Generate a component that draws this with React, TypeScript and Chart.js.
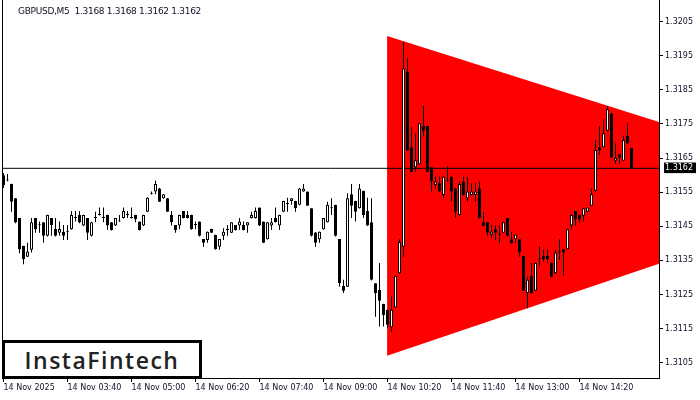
import React, { useEffect, useRef } from "react";
import { Chart, registerables } from "chart.js";

Chart.register(...registerables);

const title = "GBPUSD,M5  1.3168 1.3168 1.3162 1.3162";

const opens = [
  1.316, 1.31584, 1.31574, 1.31532, 1.31474, 1.31392, 1.31361, 1.31381, 1.31474, 1.31454,
  1.31462, 1.31422, 1.31474, 1.31442, 1.31431, 1.31434, 1.31434, 1.31441, 1.31474, 1.31483,
  1.31452, 1.31474, 1.31422, 1.31474, 1.31483, 1.31477, 1.31483, 1.31462, 1.31452, 1.31464,
  1.31474, 1.31483, 1.31474, 1.31483, 1.31464, 1.31452, 1.31493, 1.31544, 1.31552, 1.31561,
  1.31532, 1.31532, 1.31483, 1.31454, 1.31452, 1.31495, 1.31483, 1.31483, 1.31454, 1.31464,
  1.31413, 1.3141, 1.31442, 1.31425, 1.3139, 1.31422, 1.31439, 1.31431, 1.31454, 1.31452,
  1.31454, 1.31452, 1.31474, 1.31474, 1.31505, 1.31464, 1.31412, 1.31452, 1.31474, 1.31452,
  1.31493, 1.31515, 1.31524, 1.31524, 1.31513, 1.31552, 1.31552, 1.31503, 1.31432, 1.31412,
  1.31441, 1.31462, 1.31503, 1.31513, 1.31413, 1.31275, 1.31273, 1.31544, 1.31524, 1.31503,
  1.31554, 1.31495, 1.31462, 1.31283, 1.31263, 1.31222, 1.31205, 1.31154, 1.31212, 1.31312,
  1.3139, 1.31903, 1.31682, 1.31623, 1.31632, 1.31744, 1.31744, 1.31623, 1.31571, 1.31576,
  1.31542, 1.31581, 1.31595, 1.31561, 1.31483, 1.31581, 1.31532, 1.31542, 1.31542, 1.31561,
  1.31462, 1.31462, 1.31425, 1.31441, 1.31425, 1.31431, 1.31474, 1.31412, 1.31412, 1.31412,
  1.31363, 1.31254, 1.31304, 1.31261, 1.31353, 1.31363, 1.31363, 1.31343, 1.31312, 1.31374,
  1.31383, 1.31383, 1.31452, 1.31495, 1.31483, 1.31481, 1.31493, 1.3151, 1.31554, 1.31682,
  1.31682, 1.3173, 1.31781, 1.31642, 1.31661, 1.31642, 1.31715, 1.3168,
];

const highs = [
  1.31606, 1.31603, 1.31575, 1.31533, 1.31474, 1.31393, 1.31402, 1.31474, 1.31474, 1.31464,
  1.31462, 1.31484, 1.31474, 1.31474, 1.31464, 1.31454, 1.31454, 1.31495, 1.31495, 1.31495,
  1.31484, 1.31474, 1.31463, 1.31493, 1.31505, 1.31505, 1.31484, 1.31462, 1.31474, 1.31483,
  1.31505, 1.31495, 1.31505, 1.31484, 1.31464, 1.31484, 1.31535, 1.31552, 1.31584, 1.31562,
  1.31544, 1.31533, 1.31495, 1.31454, 1.31484, 1.31495, 1.31495, 1.31484, 1.31464, 1.31464,
  1.31413, 1.31435, 1.31443, 1.31425, 1.31413, 1.31444, 1.31454, 1.31462, 1.31454, 1.31474,
  1.31464, 1.31462, 1.31493, 1.31505, 1.31505, 1.31464, 1.31462, 1.31474, 1.31505, 1.31484,
  1.31525, 1.31534, 1.31533, 1.31525, 1.31562, 1.31574, 1.31552, 1.31503, 1.31433, 1.31435,
  1.31474, 1.31522, 1.31532, 1.31513, 1.31413, 1.31293, 1.31547, 1.31574, 1.31525, 1.31574,
  1.31554, 1.31534, 1.31532, 1.31283, 1.31342, 1.31223, 1.31205, 1.31244, 1.31305, 1.31412,
  1.31991, 1.31943, 1.31742, 1.31723, 1.31753, 1.31803, 1.31745, 1.31624, 1.31595, 1.31595,
  1.31596, 1.31625, 1.31596, 1.31562, 1.31581, 1.31595, 1.31595, 1.31576, 1.31576, 1.31581,
  1.31493, 1.31462, 1.31454, 1.31454, 1.31454, 1.31462, 1.31474, 1.31434, 1.31425, 1.31412,
  1.31363, 1.31302, 1.31342, 1.31342, 1.31392, 1.31381, 1.31383, 1.31344, 1.31381, 1.31412,
  1.31383, 1.31442, 1.31484, 1.31495, 1.31484, 1.31503, 1.31505, 1.31561, 1.31703, 1.31744,
  1.31764, 1.31803, 1.31782, 1.31693, 1.31662, 1.31715, 1.31752, 1.3168,
];

const lows = [
  1.31562, 1.31582, 1.31493, 1.31459, 1.31371, 1.31339, 1.3136, 1.31373, 1.31431, 1.31431,
  1.31402, 1.3142, 1.31422, 1.3142, 1.31422, 1.3141, 1.3141, 1.3144, 1.31464, 1.31459,
  1.3145, 1.3141, 1.3142, 1.31462, 1.31482, 1.31462, 1.31439, 1.31438, 1.31451, 1.31463,
  1.31473, 1.31474, 1.31473, 1.31462, 1.31438, 1.31451, 1.31492, 1.31543, 1.31544, 1.31521,
  1.31531, 1.31492, 1.31452, 1.31431, 1.31441, 1.31473, 1.31473, 1.3144, 1.31441, 1.3142,
  1.3139, 1.31402, 1.3143, 1.31381, 1.31381, 1.3141, 1.31422, 1.3143, 1.31438, 1.31439,
  1.31438, 1.31431, 1.31473, 1.31473, 1.31451, 1.31401, 1.31411, 1.31439, 1.31461, 1.31439,
  1.31492, 1.31493, 1.31513, 1.31493, 1.31512, 1.31551, 1.3151, 1.3142, 1.3139, 1.31402,
  1.3144, 1.31461, 1.31483, 1.3142, 1.31273, 1.31254, 1.31272, 1.31474, 1.31464, 1.31502,
  1.31474, 1.31451, 1.31291, 1.31185, 1.31156, 1.31156, 1.31152, 1.31141, 1.31211, 1.31311,
  1.31361, 1.31671, 1.31609, 1.3161, 1.31631, 1.31713, 1.31609, 1.31552, 1.31561, 1.31551,
  1.31532, 1.3158, 1.31522, 1.31474, 1.31482, 1.31541, 1.31522, 1.31541, 1.31522, 1.31473,
  1.3145, 1.31422, 1.31415, 1.3141, 1.314, 1.3143, 1.3142, 1.31399, 1.314, 1.31361,
  1.3126, 1.3121, 1.31252, 1.3126, 1.31332, 1.31346, 1.31342, 1.31301, 1.31311, 1.31351,
  1.31304, 1.31382, 1.31441, 1.31451, 1.31461, 1.31464, 1.31492, 1.3151, 1.31553, 1.31659,
  1.31681, 1.31729, 1.3165, 1.31633, 1.31633, 1.31641, 1.31693, 1.3162,
];

const closes = [
  1.31571, 1.31584, 1.31522, 1.31461, 1.31383, 1.31353, 1.31376, 1.31462, 1.31441, 1.31453,
  1.31422, 1.31483, 1.31454, 1.31422, 1.31442, 1.31422, 1.31435, 1.31483, 1.31474, 1.31461,
  1.31483, 1.31431, 1.31462, 1.31474, 1.31483, 1.31474, 1.31452, 1.31439, 1.31474, 1.31464,
  1.31495, 1.31483, 1.31474, 1.31471, 1.31439, 1.31483, 1.31534, 1.31544, 1.31574, 1.31522,
  1.31544, 1.31493, 1.31462, 1.31439, 1.31483, 1.31474, 1.31474, 1.31441, 1.31454, 1.31422,
  1.31402, 1.31434, 1.31431, 1.31383, 1.31413, 1.31434, 1.31439, 1.31462, 1.31439, 1.31464,
  1.31439, 1.31462, 1.31483, 1.31495, 1.31452, 1.31402, 1.31462, 1.31462, 1.31462, 1.31483,
  1.31524, 1.31515, 1.31532, 1.31503, 1.31561, 1.31561, 1.3151, 1.31422, 1.31402, 1.31434,
  1.31474, 1.31513, 1.31503, 1.31422, 1.31283, 1.31261, 1.31532, 1.3151, 1.31493, 1.31561,
  1.31483, 1.31452, 1.31293, 1.31254, 1.31232, 1.3119, 1.31161, 1.31205, 1.31304, 1.31404,
  1.31913, 1.31672, 1.3161, 1.31644, 1.31752, 1.3173, 1.3161, 1.31581, 1.31581, 1.31552,
  1.31595, 1.31581, 1.31552, 1.31493, 1.31574, 1.31542, 1.31552, 1.31552, 1.31552, 1.31474,
  1.31451, 1.31431, 1.31434, 1.31431, 1.31425, 1.31462, 1.31422, 1.314, 1.31425, 1.31373,
  1.31261, 1.31293, 1.31254, 1.31342, 1.31353, 1.31353, 1.31353, 1.31302, 1.31373, 1.31374,
  1.31373, 1.31441, 1.31483, 1.31471, 1.31471, 1.31503, 1.31505, 1.31544, 1.31674, 1.31672,
  1.31723, 1.31793, 1.31651, 1.31651, 1.31651, 1.31703, 1.31693, 1.3162,
];

const tickBars = [0, 16, 32, 48, 64, 80, 96, 112, 128, 144];
const tickLabels = [
  "14 Nov 2025",
  "14 Nov 03:40",
  "14 Nov 05:00",
  "14 Nov 06:20",
  "14 Nov 07:40",
  "14 Nov 09:00",
  "14 Nov 10:20",
  "14 Nov 11:40",
  "14 Nov 13:00",
  "14 Nov 14:20",
];
const priceTicks = [1.3105, 1.3115, 1.3125, 1.3135, 1.3145, 1.3155, 1.3165, 1.3175, 1.3185, 1.3195, 1.3205];
const lastPrice = 1.3162;

const patternX = [95.9, 163.875];
const patternUpper = [1.32008, 1.31756];
const patternLower = [1.3107, 1.3134];

const X_MIN = -0.375;
const X_MAX = 163.875;
const Y_MIN = 1.310051;
const Y_MAX = 1.321136;

const FONT = "'DejaVu Sans', 'Liberation Sans', sans-serif";

export default function App() {
  const ref = useRef<HTMLCanvasElement>(null);

  useEffect(() => {
    const canvas = ref.current;
    if (!canvas) return;
    Chart.defaults.font.family = FONT;

    const isLast = (ctx: any) => ctx && ctx.tick && Math.abs(ctx.tick.value - lastPrice) < 1e-7;

    const chart = new Chart(canvas, {
      type: "bar",
      data: {
        datasets: [
          {
            type: "line",
            data: patternX.map((x, i) => ({ x, y: patternLower[i] })),
            borderColor: "rgba(0,0,0,0)",
            borderWidth: 1,
            pointRadius: 0,
            fill: false,
            order: 6,
          } as any,
          {
            type: "line",
            data: patternX.map((x, i) => ({ x, y: patternUpper[i] })),
            borderColor: "rgba(0,0,0,0)",
            borderWidth: 1,
            pointRadius: 0,
            backgroundColor: "#ff0000",
            fill: "-1",
            order: 5,
          } as any,
          {
            type: "line",
            data: [
              { x: X_MIN, y: lastPrice },
              { x: X_MAX, y: lastPrice },
            ],
            borderColor: "#000",
            borderWidth: 1,
            pointRadius: 0,
            fill: false,
            order: 4,
          } as any,
          {
            type: "bar",
            data: lows.map((l, i) => ({ x: i, y: [l, highs[i]] })),
            backgroundColor: "#000",
            borderWidth: 0,
            barThickness: 1,
            grouped: false,
            inflateAmount: 0,
            order: 3,
          } as any,
          {
            type: "bar",
            data: opens.map((o, i) => ({ x: i, y: [o, closes[i]] })),
            backgroundColor: opens.map((o, i) => (closes[i] >= o ? "#ffffff" : "#000000")),
            borderColor: "#000",
            borderWidth: 1,
            borderSkipped: false,
            barThickness: 3,
            minBarLength: 1,
            grouped: false,
            inflateAmount: 0,
            order: 2,
          } as any,
        ],
      },
      options: {
        responsive: false,
        animation: false,
        events: [],
        layout: { padding: 0 },
        plugins: {
          legend: { display: false },
          tooltip: { enabled: false },
          title: { display: false },
        },
        scales: {
          x: {
            type: "linear",
            position: "bottom",
            min: X_MIN,
            max: X_MAX,
            bounds: "data",
            offset: false,
            grid: {
              display: true,
              offset: false,
              drawOnChartArea: false,
              drawTicks: true,
              tickLength: 4,
              color: "#000",
            },
            border: { display: true, color: "#000", width: 1 },
            ticks: {
              autoSkip: false,
              maxRotation: 0,
              minRotation: 0,
              align: "start",
              padding: 1,
              color: "#10102a",
              font: { family: FONT, size: 8 },
              callback: (v: any) => {
                const i = tickBars.indexOf(Number(v));
                return i >= 0 ? tickLabels[i] : "";
              },
            },
            afterBuildTicks: (s: any) => {
              s.ticks = tickBars.map((v) => ({ value: v }));
            },
            afterFit: (s: any) => {
              s.height = 22;
              s.paddingLeft = 0;
              s.paddingRight = 0;
            },
          },
          y: {
            type: "linear",
            position: "right",
            min: Y_MIN,
            max: Y_MAX,
            bounds: "data",
            beginAtZero: false,
            grid: {
              display: true,
              drawOnChartArea: false,
              drawTicks: true,
              tickLength: 4,
              color: "#000",
              tickColor: (ctx: any) => (isLast(ctx) ? "rgba(0,0,0,0)" : "#000"),
            },
            border: { display: true, color: "#000", width: 1 },
            ticks: {
              autoSkip: false,
              padding: 2,
              font: { family: FONT, size: 8 },
              color: (ctx: any) => (isLast(ctx) ? "#ffffff" : "#10102a"),
              showLabelBackdrop: (ctx: any) => isLast(ctx),
              backdropColor: "#000",
              backdropPadding: { top: 1, bottom: 0, left: 1, right: 3 },
              callback: (v: any) => Number(v).toFixed(4),
            },
            afterBuildTicks: (s: any) => {
              s.ticks = [...priceTicks, lastPrice].sort((a, b) => a - b).map((v) => ({ value: v }));
            },
            afterFit: (s: any) => {
              s.width = 41;
              s.paddingTop = 0;
              s.paddingBottom = 0;
            },
          },
          yl: {
            type: "linear",
            position: "left",
            display: true,
            grid: { display: true, drawOnChartArea: false, drawTicks: false },
            border: { display: true, color: "#000", width: 1 },
            ticks: { display: false },
            afterFit: (s: any) => {
              s.width = 2;
              s.paddingTop = 0;
              s.paddingBottom = 0;
            },
          },
        },
      } as any,
    });

    return () => chart.destroy();
  }, []);

  return (
    <div
      style={{
        position: "fixed",
        left: 0,
        top: 0,
        width: 700,
        height: 400,
        background: "#fff",
        overflow: "hidden",
      }}
    >
      <canvas ref={ref} width={700} height={400} style={{ display: "block" }} />
      <div
        style={{
          position: "absolute",
          left: 18,
          top: 6,
          fontFamily: FONT,
          fontSize: 9,
          lineHeight: "11px",
          letterSpacing: "-0.3px",
          whiteSpace: "pre",
          color: "#10102a",
        }}
      >
        {title}
      </div>
      <div
        style={{
          position: "absolute",
          left: 2,
          top: 340,
          width: 200,
          height: 39,
          boxSizing: "border-box",
          border: "3px solid #000",
          background: "#fff",
          display: "flex",
          alignItems: "center",
          justifyContent: "center",
          fontFamily: "'Open Sans', 'Noto Sans', sans-serif",
          fontWeight: 600,
          fontSize: 23,
          letterSpacing: "1.5px",
          color: "#222",
        }}
      >
        InstaFintech
      </div>
    </div>
  );
}
